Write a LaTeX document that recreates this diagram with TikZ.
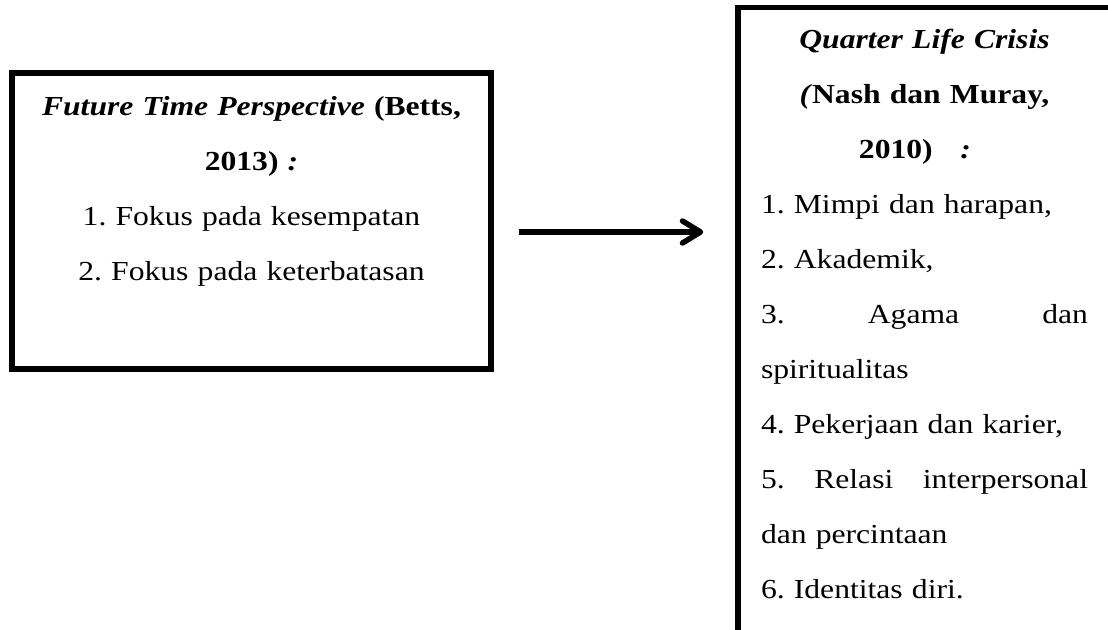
\documentclass[tikz,border=0pt]{standalone}
\usepackage{fontspec}
\setmainfont[FakeStretch=1.15]{Liberation Serif}
\usetikzlibrary{positioning,arrows.meta}
\frenchspacing

\begin{document}
\begin{tikzpicture}[
    x=1pt, y=1pt,
    framebox/.style={draw, line width=6pt, inner sep=0pt},
    boxtext/.style={inner sep=0pt, font=\fontsize{27.5}{55}\selectfont},
    flow/.style={line width=5.5pt, -{Straight Barb[length=18pt,width=22pt,round]}},
    ]
    \useasboundingbox (0,0) rectangle (1108,-629);
    \clip (0,0) rectangle (1108,-629);

    % left box
    \node [framebox, minimum width=479pt, minimum height=296pt]
        (ftsbox) at (251.5,-221) {};

    \node [boxtext, text width=470pt, align=center, below=26pt of ftsbox.north]
        (ftstext)
        {\textbf{\textit{Future Time Perspective}} \textbf{(Betts,}\\
         \textbf{2013) \textit{:}}\\
         1. Fokus pada kesempatan\\
         2. Fokus pada keterbatasan};

    % right box, runs off the page
    \node [framebox, line width=5.5pt, minimum width=373pt, minimum height=700pt]
        (qlcbox) at (924.5,-357.5) {};

    \node [boxtext, text width=327pt, align=left, below=24pt of qlcbox.north]
        (qlctext)
        {\makebox[\linewidth]{\textbf{\textit{Quarter Life Crisis}}}\\
         \makebox[\linewidth]{\textbf{\textit{(}Nash dan Muray,}}\\
         \makebox[\linewidth]{\textbf{2010)}\hspace{1em}\textbf{\textit{:}}\hspace{0.7em}}\\
         1. Mimpi dan harapan,\\
         2. Akademik,\\
         \leavevmode\hbox to \linewidth{3.\hfill Agama\hfill dan}\\
         spiritualitas\\
         4. Pekerjaan dan karier,\\
         \leavevmode\hbox to \linewidth{5.\hfill Relasi\hfill interpersonal}\\
         dan percintaan\\
         6. Identitas diri.};

    \draw [flow, shorten <=25pt, shorten >=32pt]
        ([yshift=-11pt]ftsbox.east)
        --
        ([yshift=-11pt]ftsbox.east -| qlcbox.west)
        ;
\end{tikzpicture}
\end{document}
